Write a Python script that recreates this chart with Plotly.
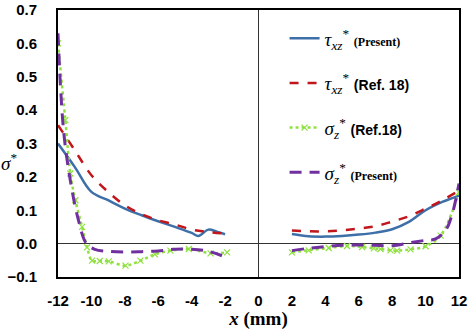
import plotly.graph_objects as go

# ---- data ----
tau_present_x = [-12, -11, -10, -9, -8, -7, -6, -5, -4, -3.6, -3, -2.5, -2, None,
                 2, 3, 4, 5, 6, 7, 8, 9, 10, 11, 12]
tau_present_y = [0.30, 0.23, 0.155, 0.13, 0.105, 0.085, 0.067, 0.05, 0.032, 0.023, 0.042, 0.036, 0.028, None,
                 0.029, 0.022, 0.021, 0.023, 0.027, 0.033, 0.043, 0.065, 0.100, 0.125, 0.144]

tau_ref_x = [-12, -11, -10, -9, -8, -7, -6, -5, -4, -3, -2, None,
             2, 3, 4, 5, 6, 7, 8, 9, 10, 11, 12]
tau_ref_y = [0.355, 0.28, 0.205, 0.155, 0.115, 0.088, 0.07, 0.057, 0.042, 0.035, 0.03, None,
             0.039, 0.037, 0.037, 0.040, 0.045, 0.052, 0.066, 0.082, 0.105, 0.130, 0.159]

sig_ref_x = [-12, -11.56, -11.26, -10.96, -10.56, -10.26, -9.96, -9.5, -8.96, -7.96, -7.07, -6.2, -5.27, -4.17, -2.87, -1.88, None,
             2, 3, 4.2, 5.3, 6.2, 6.9, 7.3, 7.9, 8.3, 9.1, 10, 10.9, 12]
sig_ref_y = [0.60, 0.37, 0.21, 0.13, 0.05, -0.011, -0.051, -0.052, -0.053, -0.066, -0.051, -0.032, -0.021, -0.016, -0.029, -0.026, None,
             -0.026, -0.02, -0.013, -0.007, -0.01, -0.014, -0.016, -0.02, -0.021, -0.017, -0.008, 0.024, 0.154]

sig_present_x = [-12, -11.85, -11.65, -11.3, -10.8, -10.3, -9.8, -9, -8, -7, -6, -5, -4, -3, -2, None,
                 2, 3, 4, 5, 6, 7, 8, 9, 10, 10.6, 11.2, 11.6, 12]
sig_present_y = [0.63, 0.47, 0.33, 0.20, 0.075, 0.0, -0.017, -0.023, -0.025, -0.024, -0.022, -0.017, -0.017, -0.023, -0.04, None,
                 -0.021, -0.014, -0.009, -0.005, -0.004, -0.005, -0.006, 0.002, 0.010, 0.014, 0.04, 0.09, 0.18]

x_ticks = list(range(-12, 13, 2))
y_ticks = [-0.1, 0.0, 0.1, 0.2, 0.3, 0.4, 0.5, 0.6, 0.7]

SERIF = "Liberation Serif"
SANS = "Liberation Sans"

def lab(sym, sub, note, note_font, note_size):
    return (f"<i>{sym}</i>"
            f"<sub><i>{sub}</i></sub><sup>*</sup> "
            f"<span style=\"font-family:{note_font};font-size:{note_size}px\"><b>{note}</b></span>")

fig = go.Figure()
fig.add_trace(go.Scatter(x=tau_present_x, y=tau_present_y, mode="lines", line_shape="spline",
                         line=dict(color="#3d6fa8", width=2.5),
                         name=lab("τ", "xz", "(Present)", SERIF, 12), legendgroup="a"))
fig.add_trace(go.Scatter(x=tau_ref_x, y=tau_ref_y, mode="lines", line_shape="spline",
                         line=dict(color="#c0161c", width=2.5, dash="dash"),
                         name=lab("τ", "xz", "(Ref. 18)", SANS, 14), legendgroup="b"))
fig.add_trace(go.Scatter(x=sig_ref_x, y=sig_ref_y, mode="lines+markers", line_shape="spline",
                         line=dict(color="#8fe040", width=2.5, dash="dot"),
                         marker=dict(symbol="x-thin", size=6, line=dict(color="#8fe040", width=1.2)),
                         name=lab("σ", "z", "(Ref.18)", SANS, 14), legendgroup="c"))
fig.add_trace(go.Scatter(x=sig_present_x, y=sig_present_y, mode="lines", line_shape="spline",
                         line=dict(color="#7030a0", width=3, dash="12px,8px"),
                         name=lab("σ", "z", "(Present)", SERIF, 12), legendgroup="d"))

fig.update_layout(
    width=469, height=330,
    margin=dict(l=58, r=10, t=10, b=53, autoexpand=False),
    paper_bgcolor="white", plot_bgcolor="white",
    font=dict(family=SERIF, color="black"),
    showlegend=True,
    legend=dict(x=0.565, y=0.965, xanchor="left", yanchor="top",
                bgcolor="rgba(0,0,0,0)", tracegroupgap=17,
                font=dict(family=SERIF, size=19, color="black")),
    xaxis=dict(range=[-12, 12], tickvals=x_ticks, ticktext=[str(v) for v in x_ticks],
               showgrid=False, zeroline=True, zerolinecolor="#333333", zerolinewidth=1,
               showline=True, linecolor="black", linewidth=2, mirror=True,
               ticks="", ticklabelstandoff=9, automargin=False,
               tickfont=dict(family=SANS, size=15, weight="bold", color="black"),
               title=dict(text="<i>x</i> (mm)", standoff=6,
                          font=dict(family=SERIF, size=19, weight="bold", color="black"))),
    yaxis=dict(range=[-0.1, 0.7], tickvals=y_ticks, tickformat=".1f",
               showgrid=False, zeroline=True, zerolinecolor="#333333", zerolinewidth=1,
               showline=True, linecolor="black", linewidth=2, mirror=True,
               ticks="", ticklabelstandoff=16, automargin=False,
               tickfont=dict(family=SANS, size=15, weight="bold", color="black")),
    annotations=[dict(text="<i>σ</i><sup>*</sup>", xref="paper", yref="paper",
                      x=-0.1446, y=0.43, xanchor="left", yanchor="middle", showarrow=False,
                      borderpad=0, font=dict(family=SERIF, size=19, color="black"))],
)

fig.write_html("out.html")
